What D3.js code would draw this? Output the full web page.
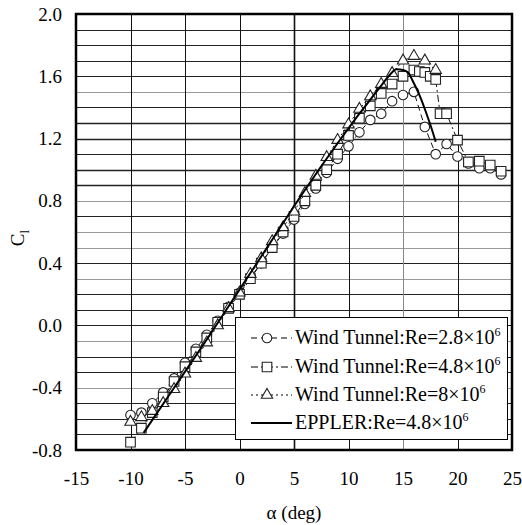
<!DOCTYPE html>
<html>
<head>
<meta charset="utf-8">
<script src="https://cdn.jsdelivr.net/npm/d3@7"></script>
<style>
  html, body { margin: 0; padding: 0; background: #fff; }
  svg { display: block; }
</style>
</head>
<body>
<svg id="chart" width="522" height="525"></svg>
<script>
// ---- data ----
const alphaRe28 = [-10,-9,-8,-7,-6,-5,-4,-3,-2,-1,0,1,2,3,4,5,6,7,8,9,10,11,12,13,14,15,16,17,18,19,20,21,22,23,24];
const clRe28    = [-0.575,-0.56,-0.50,-0.43,-0.34,-0.24,-0.15,-0.06,0.03,0.12,0.21,0.31,0.40,0.50,0.59,0.68,0.78,0.88,0.98,1.07,1.15,1.24,1.32,1.36,1.44,1.48,1.50,1.275,1.10,1.165,1.085,1.04,1.01,1.01,0.97];

const alphaRe48 = [-10,-9,-8,-7,-6,-5,-4,-3,-2,-1,0,1,2,3,4,5,6,7,8,9,10,11,12,13,14,15,16,16.5,17,17.5,18,18.4,19,20,21,22,23,24];
const clRe48    = [-0.75,-0.66,-0.56,-0.46,-0.36,-0.265,-0.17,-0.08,0.02,0.11,0.20,0.30,0.40,0.50,0.60,0.70,0.80,0.90,1.00,1.10,1.22,1.33,1.41,1.49,1.55,1.60,1.64,1.63,1.625,1.60,1.58,1.36,1.36,1.19,1.05,1.055,1.03,0.99];

const alphaRe80 = [-10,-9,-8,-7,-6,-5,-4,-3,-2,-1,0,1,2,3,4,5,6,7,8,9,10,11,12,13,14,15,16,17,18];
const clRe80    = [-0.62,-0.59,-0.55,-0.50,-0.41,-0.31,-0.21,-0.11,0.00,0.11,0.21,0.33,0.43,0.54,0.63,0.73,0.85,0.96,1.08,1.19,1.29,1.39,1.47,1.55,1.62,1.70,1.73,1.70,1.64];

const alphaEppler = [-8.8,-6,-3,0,3,6,9,11,12,13,13.8,14.4,15.0,15.5,16.0,16.5,17.0,17.5,18.0];
const clEppler    = [-0.69,-0.40,-0.09,0.23,0.55,0.87,1.17,1.36,1.45,1.54,1.61,1.645,1.64,1.62,1.555,1.48,1.39,1.29,1.18];

const xTicks = [-15,-10,-5,0,5,10,15,20,25];
const yTicks = [-0.8,-0.4,0.0,0.4,0.8,1.2,1.6,2.0];
const yGrid  = [-0.7,-0.6,-0.5,-0.4,-0.3,-0.2,-0.1,0.0,0.1,0.2,0.3,0.4,0.5,0.6,0.7,0.8,0.9,1.0,1.1,1.2,1.3,1.4,1.5,1.6,1.7,1.8,1.9];
const xGrid  = [-10,-5,0,5,10,15,20];
const yGridGray = [-0.4,-0.1,0.3,0.5,0.6,0.8,1.5];
const yGridBold = [0.9,1.0,1.2,1.3];

const legendLabels = [
  {text: "Wind Tunnel:Re=2.8×10", sup: "6", marker: "circle", dash: "6,4"},
  {text: "Wind Tunnel:Re=4.8×10", sup: "6", marker: "square", dash: "7,3,2,3"},
  {text: "Wind Tunnel:Re=8×10",   sup: "6", marker: "triangle", dash: "2,3"},
  {text: "EPPLER:Re=4.8×10",      sup: "6", marker: null, dash: null}
];

const FONT = '"Liberation Serif", "Times New Roman", serif';

// ---- layout ----
const svg = d3.select("#chart").attr("font-family", FONT);
const L = 76, R = 512, T = 14, B = 450;
const x = d3.scaleLinear().domain([-15, 25]).range([L, R]);
const y = d3.scaleLinear().domain([-0.8, 2.0]).range([B, T]);

// gridlines
const g = svg.append("g");
g.selectAll("line.hg").data(yGrid).enter().append("line")
  .attr("x1", L).attr("x2", R)
  .attr("y1", d => Math.round(y(d)) + 0.5).attr("y2", d => Math.round(y(d)) + 0.5)
  .attr("stroke", d => yGridGray.some(v => Math.abs(v - d) < 1e-6) ? "#9a9a9a" : "#222")
  .attr("stroke-width", d => yGridBold.some(v => Math.abs(v - d) < 1e-6) ? 1.6 : 1);
g.selectAll("line.vg").data(xGrid).enter().append("line")
  .attr("y1", T).attr("y2", B)
  .attr("x1", d => Math.round(x(d)) + 0.5).attr("x2", d => Math.round(x(d)) + 0.5)
  .attr("stroke", d => d === 15 ? "#888" : "#111")
  .attr("stroke-width", d => d === 5 ? 1.6 : 1);

// axes (labels only)
const xAxis = d3.axisBottom(x).tickValues(xTicks).tickSize(0).tickPadding(22).tickFormat(d => String(d));
const yAxis = d3.axisLeft(y).tickValues(yTicks).tickSize(0).tickPadding(14).tickFormat(d => d.toFixed(1));
const gx = svg.append("g").attr("transform", `translate(0,${B})`).call(xAxis);
const gy = svg.append("g").attr("transform", `translate(${L},0)`).call(yAxis);
[gx, gy].forEach(a => {
  a.attr("font-family", FONT).attr("font-size", 19);
  a.select(".domain").remove();
  a.selectAll("text").attr("fill", "#000");
});

// axis titles
svg.append("text").attr("x", (L + R) / 2).attr("y", 519).attr("text-anchor", "middle")
  .attr("font-size", 19).text("α (deg)");
const yt = svg.append("text").attr("transform", `translate(24,${(T + B) / 2 + 6}) rotate(-90)`)
  .attr("text-anchor", "middle").attr("font-size", 19);
yt.append("tspan").text("C");
yt.append("tspan").attr("dy", 5).attr("font-size", 13).text("l");

// series
const mk = (a, c) => a.map((v, i) => ({a: v, c: c[i]}));
const s28 = mk(alphaRe28, clRe28), s48 = mk(alphaRe48, clRe48), s80 = mk(alphaRe80, clRe80), sEp = mk(alphaEppler, clEppler);
const line = d3.line().x(d => x(d.a)).y(d => y(d.c));

function markerPath(type, size) {
  if (type === "circle") return d3.symbol(d3.symbolCircle, size)();
  if (type === "square") return d3.symbol(d3.symbolSquare, size)();
  return d3.symbol(d3.symbolTriangle, size)();
}
const sizes = {circle: 72, square: 92, triangle: 56};

function drawSeries(data, type, dash) {
  svg.append("path").datum(data).attr("d", line).attr("fill", "none")
    .attr("stroke", "#111").attr("stroke-width", 1).attr("stroke-dasharray", dash);
  svg.append("g").selectAll("path").data(data).enter().append("path")
    .attr("d", markerPath(type, sizes[type]))
    .attr("transform", d => `translate(${x(d.a)},${y(d.c)})`)
    .attr("fill", "#fff").attr("stroke", "#222").attr("stroke-width", 1.1);
}
drawSeries(s28, "circle", legendLabels[0].dash);
drawSeries(s48, "square", legendLabels[1].dash);
drawSeries(s80, "triangle", legendLabels[2].dash);

svg.append("path").datum(sEp).attr("d", line.curve(d3.curveMonotoneX)).attr("fill", "none")
  .attr("stroke", "#000").attr("stroke-width", 2);

// plot border
svg.append("rect").attr("x", L).attr("y", T).attr("width", R - L).attr("height", B - T)
  .attr("fill", "none").attr("stroke", "#000").attr("stroke-width", 2.5);

// legend
const lg = svg.append("g");
lg.append("rect").attr("x", 235.5).attr("y", 317.5).attr("width", 272).attr("height", 122)
  .attr("fill", "#fff").attr("stroke", "#000").attr("stroke-width", 1);
const rowY = [338, 367, 395, 423];
legendLabels.forEach((d, i) => {
  const yy = rowY[i];
  lg.append("line").attr("x1", 251).attr("x2", 292).attr("y1", yy).attr("y2", yy)
    .attr("stroke", "#000").attr("stroke-width", d.marker ? 1 : 2)
    .attr("stroke-dasharray", d.dash);
  if (d.marker) {
    lg.append("path").attr("d", markerPath(d.marker, sizes[d.marker]))
      .attr("transform", `translate(267,${yy})`)
      .attr("fill", "#fff").attr("stroke", "#222").attr("stroke-width", 1.1);
  }
  const t = lg.append("text").attr("x", 295).attr("y", yy + 6).attr("font-size", 20);
  t.append("tspan").text(d.text);
  t.append("tspan").attr("dy", -8).attr("font-size", 12).text(d.sup);
});
</script>
</body>
</html>
